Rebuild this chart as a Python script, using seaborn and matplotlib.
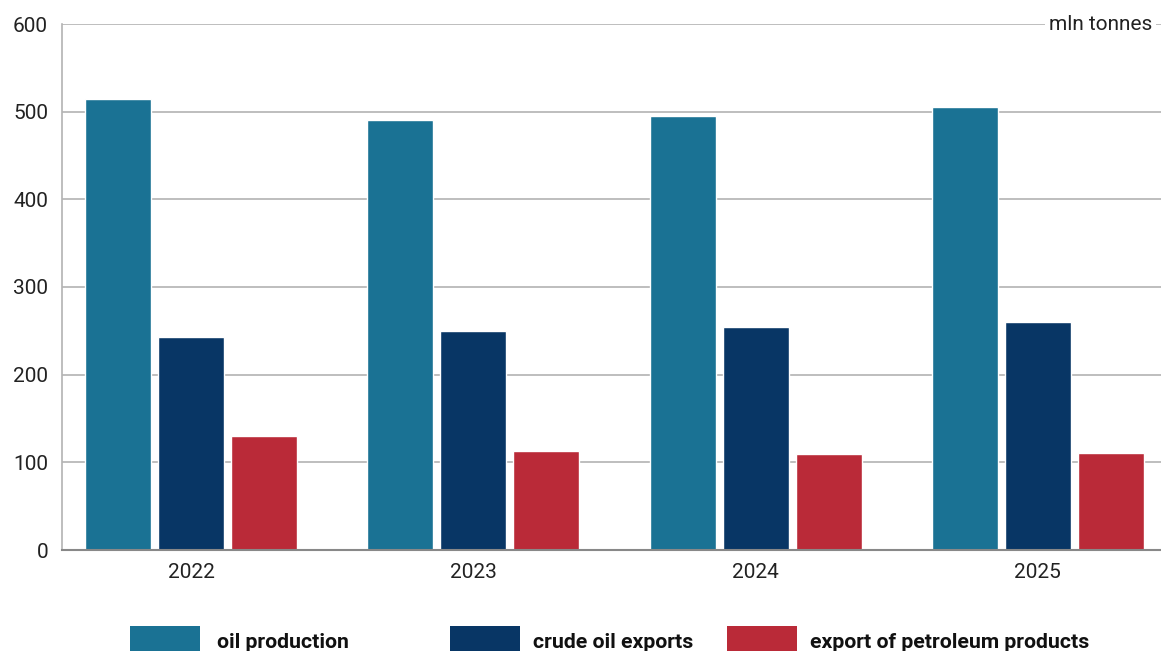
import matplotlib.pyplot as plt
import pandas as pd
import seaborn as sns
from matplotlib.patches import Rectangle

years = ["2022", "2023", "2024", "2025"]
oil_production = [515, 491, 495, 505]
crude_oil_exports = [243, 250, 254, 260]
petroleum_products = [130, 113, 110, 111]

series = ["oil production", "crude oil exports", "export of petroleum products"]
colors = ["#1a7294", "#083665", "#ba2a38"]

df = pd.DataFrame({
    "year": years * 3,
    "value": oil_production + crude_oil_exports + petroleum_products,
    "series": [s for s in series for _ in years],
})

sns.set_theme(style="white")
plt.rcParams["font.family"] = ["Roboto", "DejaVu Sans"]

W, H = 1161, 651
fig = plt.figure(figsize=(W / 100, H / 100), dpi=100)
ax = fig.add_axes([62 / W, (H - 550) / H, (W - 62) / W, (550 - 24) / H])

sns.barplot(data=df, x="year", y="value", hue="series", palette=colors,
            width=0.775, gap=0.095, saturation=1, legend=False, ax=ax)

ax.set_xlim(-0.457, 3.436)
ax.set_ylim(0, 600)
ax.set_yticks(range(0, 601, 100))
ax.yaxis.grid(True, color="#b3b3b3", linewidth=1.2)
ax.set_axisbelow(True)
ax.set_xlabel("")
ax.set_ylabel("")
ax.tick_params(axis="y", length=0, pad=10, labelsize=15, colors="#222222")
ax.tick_params(axis="x", length=0, pad=9, labelsize=15, colors="#222222")

for side in ["top", "right"]:
    ax.spines[side].set_visible(False)
ax.spines["left"].set_color("#b3b3b3")
ax.spines["left"].set_linewidth(1.2)
ax.spines["bottom"].set_color("#888888")
ax.spines["bottom"].set_linewidth(1.5)

ax.text(0.992, 1.0, "mln tonnes", transform=ax.transAxes, ha="right", va="center",
        fontsize=15, color="#222222",
        bbox=dict(facecolor="white", edgecolor="none", pad=3))

# legend along the bottom edge
patch_x = [130, 450, 727]
label_x = [217, 533, 810]
for x0, xt, name, col in zip(patch_x, label_x, series, colors):
    fig.patches.append(Rectangle((x0 / W, 0), 70 / W, 25 / H,
                                 transform=fig.transFigure, facecolor=col,
                                 edgecolor="none"))
    fig.text(xt / W, 9 / H, name, ha="left", va="center",
             fontsize=15.3, fontweight="bold", color="#111111")

plt.savefig("out.png", dpi=100)
